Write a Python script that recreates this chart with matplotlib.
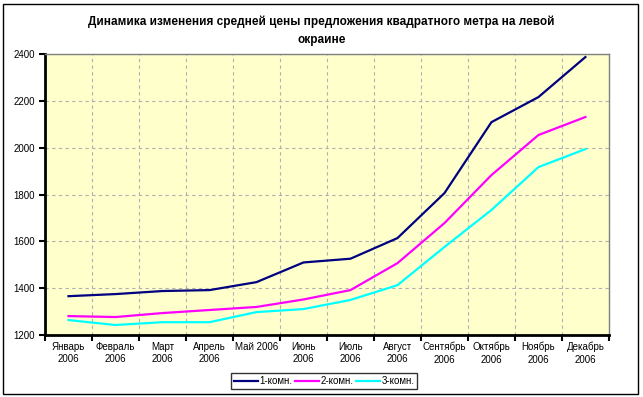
import matplotlib.pyplot as plt
from matplotlib.patches import Rectangle

plt.rcParams['font.family'] = ['Liberation Sans', 'DejaVu Sans']

months = ['Январь\n2006', 'Февраль\n2006', 'Март\n2006', 'Апрель\n2006', 'Май 2006\n',
          'Июнь\n2006', 'Июль\n2006', 'Август\n2006', 'Сентябрь\n2006', 'Октябрь\n2006',
          'Ноябрь\n2006', 'Декабрь\n2006']
room1 = [1366, 1375, 1388, 1392, 1426, 1510, 1526, 1614, 1806, 2109, 2216, 2387]
room2 = [1281, 1277, 1294, 1307, 1320, 1352, 1392, 1507, 1678, 1883, 2054, 2131]
room3 = [1264, 1243, 1255, 1255, 1298, 1311, 1350, 1413, 1576, 1734, 1917, 1994]
series_names = ['1-комн.', '2-комн.', '3-комн.']
colors = ['#000080', '#FF00FF', '#00FFFF']

fig = plt.figure(figsize=(6.43, 3.97), dpi=100)
ax = fig.add_axes([0.070, 0.156, 0.877, 0.708])
ax.set_facecolor('#FFFFCC')

x = [i + 0.5 for i in range(len(months))]
for vals, name, c in zip([room1, room2, room3], series_names, colors):
    ax.plot(x, vals, color=c, lw=1.6, label=name)

ax.set_xlim(0, 12)
ax.set_ylim(1200, 2400)
ax.set_yticks(range(1200, 2401, 200))
ax.set_xticks(range(13))
ax.set_xticklabels([])
ax.set_xticks(x, minor=True)
ax.set_xticklabels(months, minor=True, fontsize=7, linespacing=1.3)
ax.tick_params(axis='x', which='minor', length=0, pad=5)
ax.tick_params(axis='both', which='major', direction='out', length=4, width=1.5, labelsize=7)
ax.grid(True, which='major', color='#B0B0B0', linestyle=(0, (3, 3)), lw=0.8)

for s in ['left', 'bottom']:
    ax.spines[s].set_linewidth(2)
    ax.spines[s].set_color('black')
for s in ['top', 'right']:
    ax.spines[s].set_linewidth(1)
    ax.spines[s].set_color('#808080')

fig.text(0.5, 0.922, 'Динамика изменения средней цены предложения квадратного метра на левой\nокраине',
         ha='center', va='center', fontsize=8.5, fontweight='bold', linespacing=1.7)

leg = ax.legend(loc='center', bbox_to_anchor=(0.504, 0.040), bbox_transform=fig.transFigure,
                ncol=3, fontsize=7, frameon=True, fancybox=False, edgecolor='black',
                handlelength=2.5, handletextpad=0.1, columnspacing=0.3, borderpad=0.3)
leg.get_frame().set_linewidth(1)

fig.patches.append(Rectangle((0.005, 0.008), 0.988, 0.982, transform=fig.transFigure,
                             fill=False, edgecolor='black', lw=1))

fig.savefig('out.png', dpi=100)
